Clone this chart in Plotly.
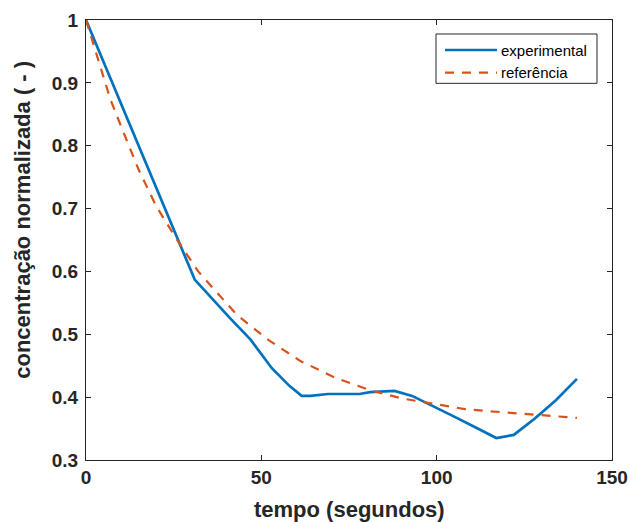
import plotly.graph_objects as go

# experimental series
t_exp = [0, 31, 41, 47, 53, 58, 61.5, 64, 69, 78, 81, 88, 93, 99, 105, 111, 117, 122, 128, 134, 140]
y_exp = [1.0, 0.587, 0.526, 0.491, 0.446, 0.418, 0.402, 0.402, 0.405, 0.405, 0.408, 0.41, 0.402,
         0.386, 0.369, 0.352, 0.335, 0.340, 0.366, 0.395, 0.429]

# reference series
t_ref = [0, 2, 4, 7, 11, 15, 20, 26, 32, 40, 43, 52, 61, 71, 81, 90, 100, 108, 114, 125, 135, 140]
y_ref = [1.0, 0.963, 0.928, 0.873, 0.817, 0.762, 0.704, 0.650, 0.600, 0.549, 0.531, 0.491, 0.458,
         0.431, 0.411, 0.398, 0.389, 0.381, 0.378, 0.373, 0.369, 0.367]

names = ["experimental", "referência"]
colors = ["#0072BD", "#D95319"]
x_ticks = [0, 50, 100, 150]
y_ticks = [0.3, 0.4, 0.5, 0.6, 0.7, 0.8, 0.9, 1.0]
y_labels = ["0.3", "0.4", "0.5", "0.6", "0.7", "0.8", "0.9", "1"]
x_title = "tempo (segundos)"
y_title = "concentração normalizada ( - )"

FONT = "Liberation Sans, Arial"
INK = "#262626"

fig = go.Figure()
fig.add_trace(go.Scatter(x=t_exp, y=y_exp, mode="lines", name=names[0],
                         line=dict(color=colors[0], width=2.7), showlegend=False))
fig.add_trace(go.Scatter(x=t_ref, y=y_ref, mode="lines", name=names[1],
                         line=dict(color=colors[1], width=2.2, dash="9px,8px"), showlegend=False))

axis_common = dict(
    showline=True, linecolor=INK, linewidth=1, mirror="ticks",
    ticks="inside", ticklen=5, tickcolor=INK, tickwidth=1,
    showgrid=False, zeroline=False, automargin=False,
    tickfont=dict(family=FONT, size=19, color=INK, weight="bold"),
)

fig.update_xaxes(range=[0, 150], tickvals=x_ticks, **axis_common)
fig.update_yaxes(range=[0.3, 1.0], tickvals=y_ticks, ticktext=y_labels, ticklabelstandoff=3,
                 **axis_common)

# axis titles
fig.add_annotation(xref="paper", yref="paper", x=0.5, y=-0.1114, text="<b>" + x_title + "</b>",
                   showarrow=False, xanchor="center", yanchor="middle",
                   font=dict(family=FONT, size=22, color=INK))
fig.add_annotation(xref="paper", yref="paper", x=-0.1198, y=0.546, text="<b>" + y_title + "</b>",
                   showarrow=False, xanchor="center", yanchor="middle", textangle=-90,
                   font=dict(family=FONT, size=22, color=INK))

# legend box drawn in plot-area (paper) coordinates
leg_x0, leg_x1, leg_y0, leg_y1 = 0.6654, 0.9715, 0.8561, 0.9682
row_y = [0.9318, 0.8802]
sample_x0, sample_x1, text_x = 0.6825, 0.7814, 0.7846
fig.add_shape(type="rect", xref="paper", yref="paper", x0=leg_x0, x1=leg_x1, y0=leg_y0, y1=leg_y1,
              line=dict(color=INK, width=1), fillcolor="white", layer="above")
dashes = ["solid", "9px,8px"]
widths = [2.7, 2.2]
for i in range(2):
    fig.add_shape(type="line", xref="paper", yref="paper", x0=sample_x0, x1=sample_x1,
                  y0=row_y[i], y1=row_y[i], layer="above",
                  line=dict(color=colors[i], width=widths[i], dash=dashes[i]))
    fig.add_annotation(xref="paper", yref="paper", x=text_x, y=row_y[i], text=names[i],
                       showarrow=False, xanchor="left", yanchor="middle",
                       font=dict(family=FONT, size=15, color="#000000"))

fig.update_layout(
    width=630, height=522,
    margin=dict(l=86, r=18, t=20, b=62),
    paper_bgcolor="white", plot_bgcolor="white",
    showlegend=False,
)

fig.write_html("out.html")
